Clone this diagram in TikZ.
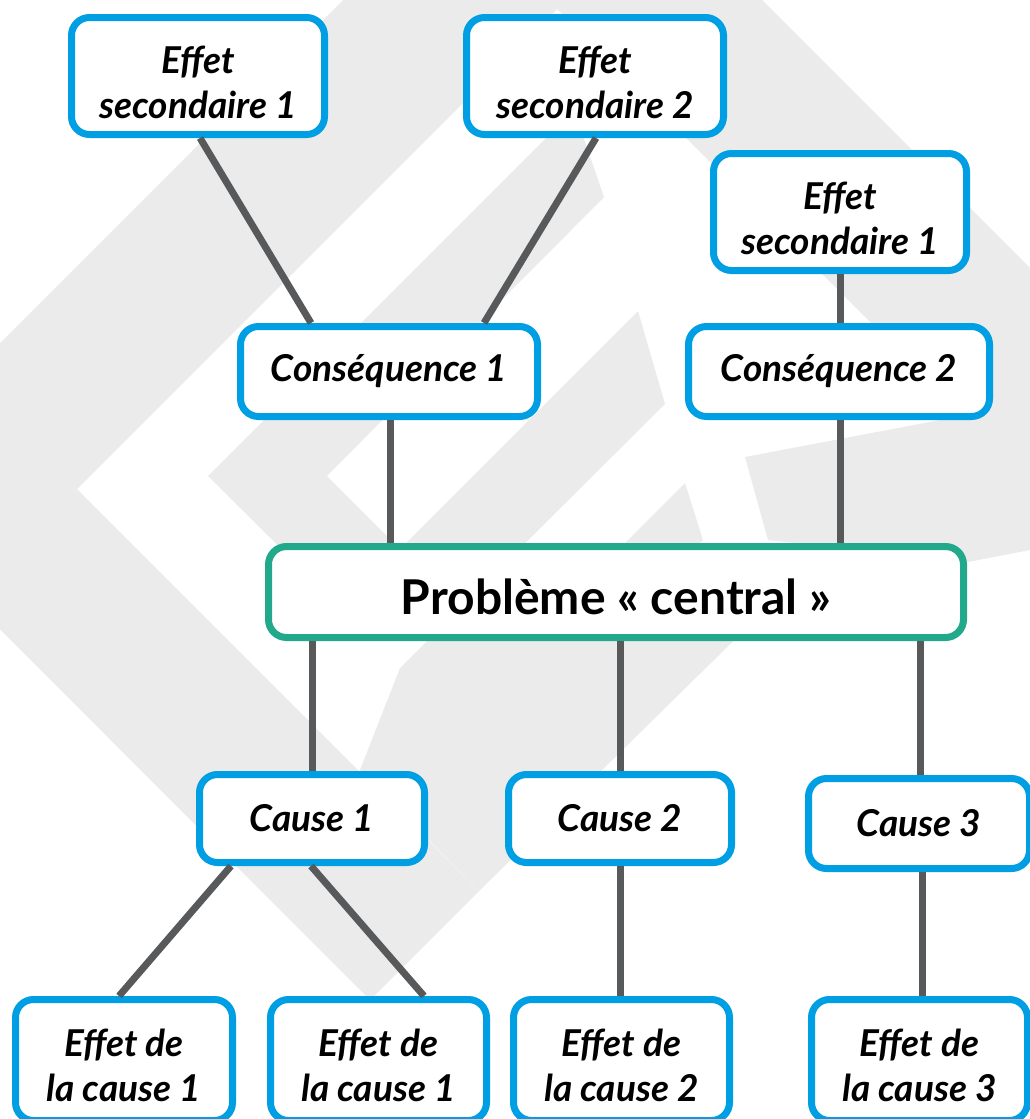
\documentclass[tikz,border=0pt]{standalone}
\usepackage{fontspec}
\setmainfont{Lato}
\usetikzlibrary{calc}
\definecolor{boxblue}{HTML}{009FE3}
\definecolor{boxgreen}{HTML}{22A88A}
\definecolor{connc}{HTML}{58595B}
\definecolor{wmgrey}{HTML}{EBEBEB}
\newcommand{\lowtxt}[1]{\rule{0pt}{#1}}
\begin{document}
\begin{tikzpicture}[x=1pt,y=-1pt,
  wm/.style={fill=wmgrey, draw=none},
  box/.style={draw=boxblue, line width=7pt, rounded corners=18pt, fill=white,
    align=center, inner sep=0pt, outer sep=0pt,
    font=\fontsize{37}{45}\selectfont\bfseries\itshape},
  mainbox/.style={draw=boxgreen, line width=7pt, rounded corners=18pt, fill=white,
    align=center, inner sep=0pt, outer sep=0pt,
    font=\fontsize{48}{56}\selectfont\bfseries},
  conn/.style={draw=connc, line width=7pt}]
\clip (0,0) rectangle (1030,1119);
\fill[white] (0,0) rectangle (1030,1119);
% watermark
\fill[wm] (343,0) -- (566,0) -- (77,489) -- (479,891) -- (370,1000) -- (-143,486) -- cycle;
\fill[wm] (574,110) -- (208,476) -- (333,600) -- (451,600) -- (327,476) -- (604,197) -- cycle;
\fill[wm] (638,311) -- (665,404) -- (468,600) -- (349,600) -- cycle;
\fill[wm] (685,483) -- (703,540) -- (643,600) -- (568,600) -- cycle;
\fill[wm] (468,600) -- (400,668) -- (360,770) -- (479,891) -- (775,600) -- cycle;
\fill[wm] (548,0) -- (762,0) -- (1030,268) -- (1030,482) -- cycle;
\fill[wm] (745,457) -- (1030,403) -- (1030,550) -- (968,562) -- (768,540) -- cycle;
% nodes
\node[box, minimum width=253pt, minimum height=117pt] (es1) at (198,76) {\lowtxt{40pt}Effet\\secondaire 1};
\node[box, minimum width=257pt, minimum height=117pt] (es2) at (595,76) {\lowtxt{40pt}Effet\\secondaire 2};
\node[box, minimum width=253pt, minimum height=117pt] (es3) at (840,212) {\lowtxt{40pt}Effet\\secondaire 1};
\node[box, minimum width=297pt, minimum height=90pt] (c1) at (389,371.5) {Conséquence 1};
\node[box, minimum width=301pt, minimum height=90pt] (c2) at (839,371.5) {Conséquence 2};
\node[mainbox, minimum width=695pt, minimum height=91pt] (p) at (616,592) {\lowtxt{46pt}Problème « central »};
\node[box, minimum width=225pt, minimum height=88pt] (ca1) at (312,818.5) {Cause 1};
\node[box, minimum width=223pt, minimum height=88pt] (ca2) at (620,818.5) {Cause 2};
\node[box, minimum width=221pt, minimum height=90pt] (ca3) at (919,823.5) {Cause 3};
\node[box, minimum width=217pt, minimum height=121pt] (e1) at (124,1060) {\lowtxt{39pt}Effet de\\la cause 1};
\node[box, minimum width=216pt, minimum height=121pt] (e2) at (378.5,1060) {\lowtxt{39pt}Effet de\\la cause 1};
\node[box, minimum width=216pt, minimum height=121pt] (e3) at (621.5,1060) {\lowtxt{39pt}Effet de\\la cause 2};
\node[box, minimum width=216pt, minimum height=121pt] (e4) at (919.5,1060) {\lowtxt{39pt}Effet de\\la cause 3};
% connectors
\draw[conn] ($(es1.south)+(2,3.5)$) -- ($(c1.north)+(-78,-3.5)$);
\draw[conn] ($(es2.south)+(1,3.5)$) -- ($(c1.north)+(95,-3.5)$);
\draw[conn] ($(es3.south)+(0,3.5)$) -- ($(es3.south |- c2.north)+(0,-3.5)$);
\draw[conn] ($(c1.south)+(1,3.5)$) -- ($(c1.south |- p.north)+(1,-3.5)$);
\draw[conn] ($(c2.south)+(1,3.5)$) -- ($(c2.south |- p.north)+(1,-3.5)$);
\draw[conn] ($(ca1.north |- p.south)+(0,3.5)$) -- ($(ca1.north)+(0,-3.5)$);
\draw[conn] ($(ca2.north |- p.south)+(0,3.5)$) -- ($(ca2.north)+(0,-3.5)$);
\draw[conn] ($(ca3.north |- p.south)+(1,3.5)$) -- ($(ca3.north)+(1,-3.5)$);
\draw[conn] ($(ca1.south)+(-81,3.5)$) -- ($(e1.north)+(-5,-3.5)$);
\draw[conn] ($(ca1.south)+(-1,3.5)$) -- ($(e2.north)+(45.5,-3.5)$);
\draw[conn] ($(ca2.south)+(0,3.5)$) -- ($(ca2.south |- e3.north)+(0,-3.5)$);
\draw[conn] ($(ca3.south)+(3,3.5)$) -- ($(ca3.south |- e4.north)+(3,-3.5)$);
\end{tikzpicture}
\end{document}
